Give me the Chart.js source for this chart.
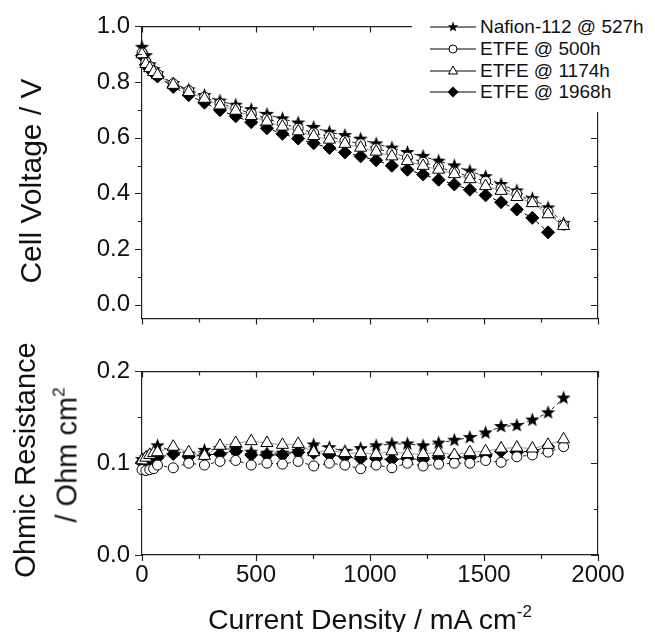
<!DOCTYPE html>
<html>
<head>
<meta charset="utf-8">
<script src="https://cdn.jsdelivr.net/npm/chart.js@4.4.0/dist/chart.umd.min.js"></script>
<style>
  body { margin: 0; background: #fff; width: 655px; height: 632px; overflow: hidden; position: relative;
         font-family: "Liberation Sans", Arial, sans-serif; color: #111; }
  #topChart { position: absolute; left: 0; top: 0; }
  #botChart { position: absolute; left: 0; top: 345px; }
  .ytitle { position: absolute; transform: translate(-50%, -50%) rotate(-90deg); white-space: nowrap; font-size: 29px; }
  .xtitle { position: absolute; transform: translateX(-50%); white-space: nowrap; font-size: 28.5px; line-height: 28px; }
  .sup { font-size: 17px; position: relative; top: -12px; }
  #legend { position: absolute; left: 412px; top: 0; width: 243px; height: 112px; background: #fff; }
  .row { position: absolute; left: 0; height: 22px; line-height: 22px; font-size: 19px; white-space: nowrap; }
  .row svg { position: absolute; left: 18px; top: 1px; }
  .row span { position: absolute; left: 68px; top: 0; }
</style>
</head>
<body>
<canvas id="topChart" width="655" height="345"></canvas>
<canvas id="botChart" width="655" height="287"></canvas>
<div class="ytitle" style="left:31px; top:181px; font-size:30px;">Cell Voltage / V</div>
<div class="ytitle" style="left:25px; top:460px;">Ohmic Resistance</div>
<div class="ytitle" style="left:67px; top:455px;">/ Ohm cm<span class="sup">2</span></div>
<div class="xtitle" style="left:370px; top:605px;">Current Density / mA cm<span class="sup">-2</span></div>
<div id="legend"></div>
<script>
// current density, mA cm-2 (first 4 points are the low-current start of the sweep)
const current = [0, 17, 34, 51, 68, 137, 205, 274, 342, 411, 479, 548, 616, 685, 753, 822, 890, 959,
  1027, 1096, 1164, 1233, 1301, 1370, 1438, 1507, 1575, 1644, 1712, 1781, 1849];

// cell voltage, V
const nafionV = [0.925, 0.895, 0.862, 0.845, 0.830, 0.795, 0.772, 0.752, 0.732, 0.717, 0.701, 0.684, 0.668, 0.653,
  0.637, 0.620, 0.608, 0.595, 0.578, 0.563, 0.547, 0.533, 0.516, 0.499, 0.480, 0.460, 0.432, 0.409, 0.381, 0.348, 0.292];
const etfe500V = [0.905, 0.872, 0.855, 0.840, 0.828, 0.794, 0.769, 0.746, 0.723, 0.705, 0.687, 0.668, 0.651, 0.634,
  0.617, 0.604, 0.589, 0.578, 0.561, 0.546, 0.530, 0.512, 0.494, 0.477, 0.460, 0.443, 0.418, 0.398, 0.370, 0.334, 0.286];
const etfe1174V = [0.900, 0.865, 0.850, 0.836, 0.825, 0.790, 0.764, 0.740, 0.716, 0.697, 0.678, 0.658, 0.640, 0.623,
  0.606, 0.593, 0.578, 0.564, 0.550, 0.533, 0.516, 0.499, 0.485, 0.469, 0.451, 0.426, 0.409, 0.387, 0.365, 0.325, 0.283];
const etfe1968V = [0.895, 0.862, 0.846, 0.832, 0.820, 0.782, 0.753, 0.726, 0.699, 0.677, 0.656, 0.634, 0.614, 0.597,
  0.580, 0.563, 0.547, 0.533, 0.519, 0.499, 0.485, 0.468, 0.449, 0.432, 0.413, 0.393, 0.368, 0.342, 0.312, 0.260];

// ohmic resistance, Ohm cm2
const nafionR = [0.104, 0.106, 0.109, 0.112, 0.119, 0.113, 0.110, 0.114, 0.116, 0.115, 0.112, 0.111, 0.111, 0.113,
  0.120, 0.117, 0.113, 0.116, 0.119, 0.121, 0.121, 0.119, 0.122, 0.125, 0.128, 0.133, 0.140, 0.141, 0.147, 0.155, 0.171];
const etfe500R = [0.093, 0.092, 0.093, 0.094, 0.098, 0.095, 0.100, 0.098, 0.102, 0.103, 0.098, 0.100, 0.099, 0.102,
  0.097, 0.100, 0.098, 0.094, 0.098, 0.095, 0.100, 0.097, 0.099, 0.100, 0.100, 0.103, 0.101, 0.107, 0.109, 0.112, 0.118];
const etfe1174R = [0.103, 0.106, 0.109, 0.111, 0.112, 0.118, 0.112, 0.108, 0.119, 0.122, 0.124, 0.122, 0.120, 0.121,
  0.112, 0.114, 0.111, 0.111, 0.110, 0.113, 0.110, 0.110, 0.112, 0.109, 0.112, 0.113, 0.116, 0.117, 0.116, 0.120, 0.126];
const etfe1968R = [0.101, 0.103, 0.104, 0.105, 0.106, 0.110, 0.107, 0.109, 0.110, 0.113, 0.109, 0.109, 0.109, 0.112,
  0.111, 0.109, 0.107, 0.105, 0.105, 0.104, 0.105, 0.104, 0.106, 0.107, 0.106, 0.108, 0.113, 0.112, 0.113, 0.118];

const seriesNames = ['Nafion-112 @ 527h', 'ETFE @ 500h', 'ETFE @ 1174h', 'ETFE @ 1968h'];
const xTicks = [0, 250, 500, 750, 1000, 1250, 1500, 1750, 2000];
const voltTicks = [0, 0.1, 0.2, 0.3, 0.4, 0.5, 0.6, 0.7, 0.8, 0.9, 1.0];
const resTicks = [0, 0.05, 0.1, 0.15, 0.2];

Chart.defaults.font.family = '"Liberation Sans", Arial, sans-serif';
Chart.defaults.color = '#111';

function pts(ys) {
  return ys.map((y, i) => ({ x: current[i], y: y }));
}

function starPath(g, cx, cy, R) {
  g.beginPath();
  for (let i = 0; i < 10; i++) {
    const rad = i % 2 ? R * 0.42 : R;
    const a = -Math.PI / 2 + i * Math.PI / 5;
    g.lineTo(cx + rad * Math.cos(a), cy + rad * Math.sin(a));
  }
  g.closePath();
}

function starCanvas(R) {
  const c = document.createElement('canvas');
  const s = Math.ceil(R * 2 + 2);
  c.width = s; c.height = s;
  const g = c.getContext('2d');
  starPath(g, s / 2, s / 2, R);
  g.fillStyle = '#000';
  g.fill();
  return c;
}

const star = starCanvas(7.5);

function makeSets(a, b, c, d) {
  const common = { borderWidth: 1, pointBorderWidth: 1, tension: 0, clip: false, fill: false };
  return [
    Object.assign({ label: seriesNames[0], data: pts(a), pointStyle: star, pointRadius: 7,
      borderColor: '#222', borderDash: [4, 3], order: 3 }, common),
    Object.assign({ label: seriesNames[1], data: pts(b), pointStyle: 'circle', pointRadius: 5,
      pointBackgroundColor: '#fff', pointBorderColor: '#000', borderColor: '#222', borderDash: [3, 3], order: 1 }, common),
    Object.assign({ label: seriesNames[2], data: pts(c), pointStyle: 'triangle', pointRadius: 7,
      pointBackgroundColor: '#fff', pointBorderColor: '#000', borderColor: '#999', order: 0 }, common),
    Object.assign({ label: seriesNames[3], data: pts(d), pointStyle: 'rectRot', pointRadius: 6.5,
      pointBackgroundColor: '#000', pointBorderColor: '#000', borderColor: '#000', borderDash: [4, 3], order: 2 }, common)
  ];
}

// tick marks: out on bottom/left, in on top/right
const tickMarks = {
  id: 'tickMarks',
  afterDraw(chart) {
    const ctx = chart.ctx, a = chart.chartArea;
    const sx = chart.scales.x, sy = chart.scales.y;
    ctx.save();
    ctx.strokeStyle = '#222';
    ctx.lineWidth = 1.2;
    ctx.beginPath();
    xTicks.forEach(v => {
      const p = Math.round(sx.getPixelForValue(v)) + 0.5;
      const len = v % 500 === 0 ? 6 : 4;
      ctx.moveTo(p, a.bottom); ctx.lineTo(p, a.bottom + len);
      ctx.moveTo(p, a.top); ctx.lineTo(p, a.top + len);
    });
    sy.ticks.forEach(t => {
      const p = Math.round(sy.getPixelForValue(t.value)) + 0.5;
      const len = t.label !== '' ? 7 : 4;
      ctx.moveTo(a.left, p); ctx.lineTo(a.left - len, p);
      ctx.moveTo(a.right, p); ctx.lineTo(a.right - len, p);
    });
    ctx.stroke();
    ctx.restore();
  }
};

const border = { display: true, color: '#222', width: 1.2 };

function fixed(prop, size) {
  return function (scale) { scale[prop] = size; };
}

function makeScales(yMin, yMax, yTicks, yLabel, showX, topH, botH) {
  return {
    x: {
      type: 'linear', min: 0, max: 2000, position: 'bottom',
      border: border, grid: { display: false, drawTicks: false },
      afterBuildTicks: s => { s.ticks = xTicks.map(v => ({ value: v })); },
      ticks: { display: showX, padding: 6, font: { size: 24 }, autoSkip: false, maxRotation: 0,
        callback: v => (v % 500 === 0 ? String(v) : '') },
      afterFit: fixed('height', botH)
    },
    x2: {
      type: 'linear', min: 0, max: 2000, position: 'top',
      border: border, grid: { display: false, drawTicks: false },
      ticks: { display: false },
      afterFit: fixed('height', topH)
    },
    y: {
      type: 'linear', min: yMin, max: yMax, position: 'left',
      border: border, grid: { display: false, drawTicks: false },
      afterBuildTicks: s => { s.ticks = yTicks.map(v => ({ value: v })); },
      ticks: { padding: 12, font: { size: 24 }, autoSkip: false, callback: yLabel },
      afterFit: fixed('width', 142)
    },
    y2: {
      type: 'linear', min: yMin, max: yMax, position: 'right',
      border: border, grid: { display: false, drawTicks: false },
      ticks: { display: false },
      afterFit: fixed('width', 57)
    }
  };
}

const baseOptions = {
  responsive: false,
  animation: false,
  devicePixelRatio: 1,
  layout: { padding: 0 },
  plugins: { legend: { display: false }, tooltip: { enabled: false } }
};

new Chart(document.getElementById('topChart'), {
  type: 'line',
  data: { datasets: makeSets(nafionV, etfe500V, etfe1174V, etfe1968V) },
  options: Object.assign({}, baseOptions, {
    scales: makeScales(-0.05, 1.0, voltTicks,
      v => (Math.round(v * 10) % 2 === 0 ? v.toFixed(1) : ''), false, 25, 7)
  }),
  plugins: [tickMarks]
});

new Chart(document.getElementById('botChart'), {
  type: 'line',
  data: { datasets: makeSets(nafionR, etfe500R, etfe1174R, etfe1968R) },
  options: Object.assign({}, baseOptions, {
    scales: makeScales(0, 0.2, resTicks,
      v => (Math.round(v * 100) % 10 === 0 ? v.toFixed(1) : ''), true, 6, 77)
  }),
  plugins: [tickMarks]
});

// legend
function markerSvg(i) {
  const cx = 23, cy = 10;
  let m = '';
  if (i === 0) {
    const p = [];
    for (let k = 0; k < 10; k++) {
      const r = k % 2 ? 2.3 : 5.5;
      const a = -Math.PI / 2 + k * Math.PI / 5;
      p.push((cx + r * Math.cos(a)).toFixed(2) + ',' + (cy + r * Math.sin(a)).toFixed(2));
    }
    m = '<polygon points="' + p.join(' ') + '" fill="#000"/>';
  } else if (i === 1) {
    m = '<circle cx="' + cx + '" cy="' + cy + '" r="4" fill="#fff" stroke="#000" stroke-width="1"/>';
  } else if (i === 2) {
    m = '<polygon points="' + cx + ',' + (cy - 5) + ' ' + (cx + 4.5) + ',' + (cy + 3) + ' ' + (cx - 4.5) + ',' + (cy + 3) +
      '" fill="#fff" stroke="#000" stroke-width="1"/>';
  } else {
    m = '<polygon points="' + cx + ',' + (cy - 5.5) + ' ' + (cx + 5.5) + ',' + cy + ' ' + cx + ',' + (cy + 5.5) + ' ' +
      (cx - 5.5) + ',' + cy + '" fill="#000"/>';
  }
  return '<svg width="48" height="20"><line x1="0" y1="10" x2="46" y2="10" stroke="#000" stroke-width="1"/>' + m + '</svg>';
}

const legend = document.getElementById('legend');
const rowY = [16, 38, 59.5, 81];
seriesNames.forEach((name, i) => {
  const row = document.createElement('div');
  row.className = 'row';
  row.style.top = rowY[i] + 'px';
  row.innerHTML = markerSvg(i) + '<span>' + name + '</span>';
  legend.appendChild(row);
});
</script>
</body>
</html>
